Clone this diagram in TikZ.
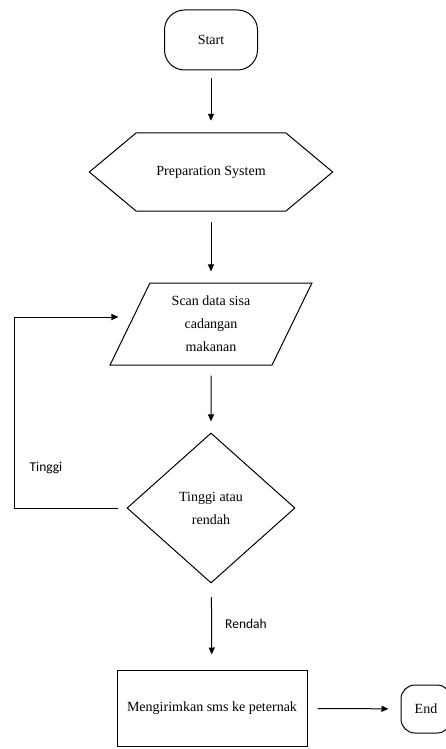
\documentclass[tikz,border=0pt]{standalone}
\usepackage{fontspec}
\setmainfont{Liberation Serif}
\newfontfamily\labelfont{Carlito}
\usetikzlibrary{positioning, arrows.meta, shapes.geometric}

\tikzset{
    terminal/.style={draw, line width=1pt, rounded corners=20pt, align=center},
    prepbox/.style={minimum width=243pt, minimum height=78pt},
    iobox/.style={draw, line width=1pt, trapezium, trapezium left angle=66, trapezium right angle=114,
        trapezium stretches=true, minimum width=202pt, minimum height=82pt, align=center},
    decision/.style={draw, line width=1pt, diamond, minimum width=168pt, minimum height=150pt, align=center, inner sep=0pt},
    process/.style={draw, line width=1pt, minimum width=190pt, minimum height=76pt},
    arr/.style={line width=1pt, -{Triangle[length=7pt, width=6pt]}},
    edgelabel/.style={font=\labelfont\fontsize{13.5}{16}\selectfont}
}

\begin{document}
\begin{tikzpicture}[x=1pt, y=-1pt, font=\fontsize{14}{23}\selectfont]
    \useasboundingbox (0,0) rectangle (445,749);
    % Flow nodes
    \node (start) [terminal, minimum width=93pt, minimum height=60pt] at (211,40) {Start};
    \node (prep) [prepbox] at (211,172) {Preparation System};
    \draw [line width=1pt] (prep.west) -- ([xshift=47pt]prep.north west) -- ([xshift=-47pt]prep.north east)
        -- (prep.east) -- ([xshift=-47pt]prep.south east) -- ([xshift=47pt]prep.south west) -- cycle;
    \node (scan) [iobox] at (211,324) {Scan data sisa\\cadangan\\makanan};
    \node (check) [decision] at (211,508) {Tinggi atau\\rendah};
    \node (send) [process] at (212,708) {Mengirimkan sms ke peternak};
    \node (finish) [terminal, minimum width=50pt, minimum height=48pt, rounded corners=14pt] at (426,709) {End};
    % Connectors
    \draw [arr, shorten <=8pt, shorten >=12pt] (start) -- (prep);
    \draw [arr, shorten <=11pt, shorten >=11pt] (prep) -- (scan);
    \draw [arr, shorten <=10pt, shorten >=11pt] (scan) -- (check);
    \draw [arr, shorten <=14pt, shorten >=15pt] (check) -- (send);
    \draw [arr, shorten <=10pt, shorten >=12pt] (send) -- (finish);
    % Loop back
    \coordinate (loop) at (14,317);
    \draw [arr, shorten <=9pt, shorten >=11pt] (check.west) -| (loop) -- (loop -| scan.west);
    % Labels
    \node (high) [edgelabel] at (46,468) {Tinggi};
    \node (low) [edgelabel] at (246,624) {Rendah};
\end{tikzpicture}
\end{document}
